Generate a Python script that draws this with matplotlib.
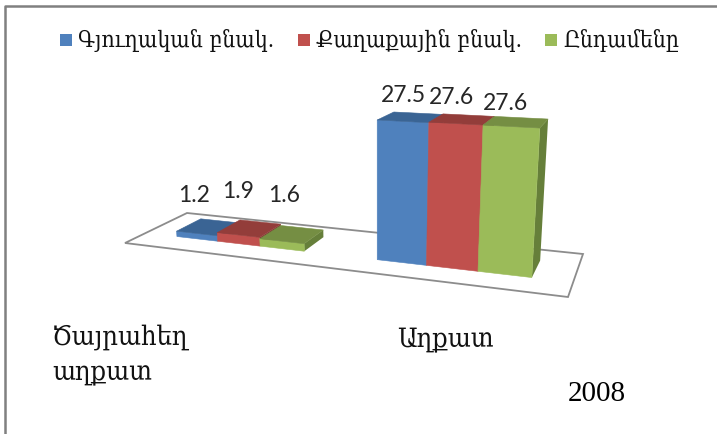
import matplotlib
matplotlib.use('Agg')
import matplotlib.pyplot as plt
from matplotlib.patches import Polygon
import numpy as np

categories = ['Ծայրահեղ\nաղքատ', 'Աղքատ']
series = ['Գյուղական բնակ.', 'Քաղաքային բնակ.', 'Ընդամենը']
rural = [1.2, 27.5]
urban = [1.9, 27.6]
total = [1.6, 27.6]
year = '2008'

front_col = ['#4F81BD', '#C0504D', '#9BBB59']
top_col = ['#3A6494', '#933D3A', '#758E43']
side_col = ['#34587F', '#7F3432', '#667F3A']

# camera, fitted by eye: floor is the unit square, z is in data units
PROJ = np.array([[339.3, 85.49, -0.588, 125.0],
                 [-0.22, -3.25, -4.918, 243.0],
                 [-0.18257, 0.1256, -0.001557, 1.0]])

cat_pos = [0.252, 0.754]
bar_w = 0.11
y0, y1 = 0.31, 0.72


def pt(x, y, z=0):
    p = PROJ @ np.array([x, y, z, 1.0])
    return p[0] / p[2], p[1] / p[2]


def draw_bar(ax, x0, x1, h, i):
    ax.add_patch(Polygon([pt(x1, y0), pt(x1, y1), pt(x1, y1, h), pt(x1, y0, h)],
                         fc=side_col[i], ec='none', zorder=3))
    ax.add_patch(Polygon([pt(x0, y0), pt(x1, y0), pt(x1, y0, h), pt(x0, y0, h)],
                         fc=front_col[i], ec=front_col[i], lw=0.4, zorder=3))
    ax.add_patch(Polygon([pt(x0, y0, h), pt(x1, y0, h), pt(x1, y1, h), pt(x0, y1, h)],
                         fc=top_col[i], ec=top_col[i], lw=0.4, zorder=3))


fig = plt.figure(figsize=(7.17, 4.34), dpi=100)
ax = fig.add_axes([0, 0, 1, 1])
ax.set_xlim(0, 717)
ax.set_ylim(434, 0)
ax.axis('off')

# outer frame, only top and left show
ax.plot([4.5, 4.5, 717], [434, 5.5, 5.5], color='#808080', lw=1.8, zorder=1)

ax.add_patch(Polygon([pt(0, 0), pt(1, 0), pt(1, 1), pt(0, 1)], fc='white',
                     ec='#8C8C8C', lw=1.3, zorder=2))

values = [rural, urban, total]
for c in range(len(categories)):
    for i in range(len(series)):
        x0 = cat_pos[c] + (i - 1.5) * bar_w
        draw_bar(ax, x0, x0 + bar_w, values[i][c], i)

# value labels
label_xy = [[(194, 195), (403, 96)], [(238, 192), (451, 97)], [(284, 196), (505, 103)]]
for i in range(len(series)):
    for c in range(len(categories)):
        ax.text(label_xy[i][c][0], label_xy[i][c][1], '%.1f' % values[i][c],
                family='Lato', fontsize=16.5, color='#262626', ha='center', va='center', zorder=5)

# legend
leg_x = [60, 298, 545]
txt_x = [78, 316, 563]
for i in range(len(series)):
    ax.add_patch(plt.Rectangle((leg_x[i], 34), 12, 12, fc=front_col[i], ec='none'))
    ax.text(txt_x[i], 47, series[i], family='DejaVu Serif', stretch='condensed',
            fontsize=16.5, color='#111111', ha='left', va='baseline')

serif = dict(family='DejaVu Serif', stretch='condensed', color='#111111')
ax.text(52, 345, categories[0].split('\n')[0], fontsize=19.5, ha='left', va='baseline', **serif)
ax.text(52, 380, categories[0].split('\n')[1], fontsize=19.5, ha='left', va='baseline', **serif)
ax.text(397, 347, categories[1], fontsize=19.5, ha='left', va='baseline', **serif)
ax.text(568, 401, year, family='Liberation Serif', fontsize=21, color='black',
        ha='left', va='baseline')

fig.savefig('out.png', dpi=100)
